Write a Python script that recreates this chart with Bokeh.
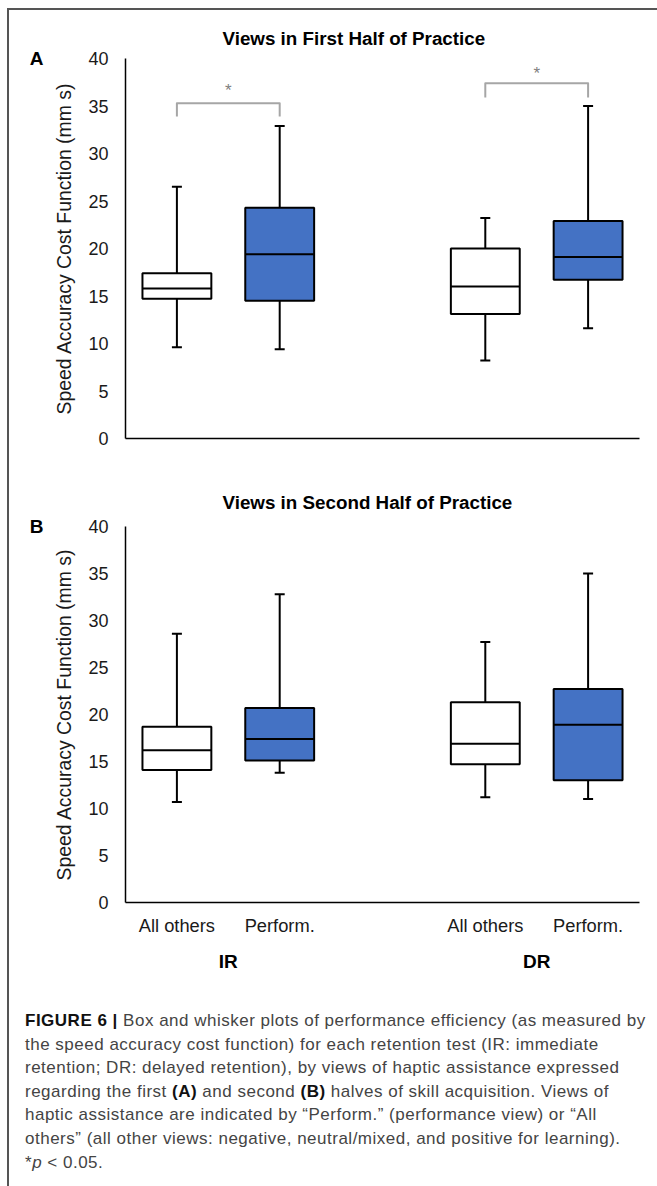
from bokeh.plotting import figure
from bokeh.layouts import column
from bokeh.models import (ColumnDataSource, FactorRange, Range1d, Whisker, TeeHead,
                          Div, Title, FixedTicker, LinearAxis)
from bokeh.transform import dodge
from bokeh.embed import file_html
from bokeh.resources import INLINE
from bokeh.core.properties import value

# ---------------- data ----------------
tests = ["IR", "DR"]
views = ["All others", "Perform."]
box_colors = ["white", "#4472C4", "white", "#4472C4"]

# Panel A: views in first half of practice
a_lower = [9.6, 9.4, 8.2, 11.6]
a_q1 = [14.7, 14.5, 13.1, 16.7]
a_med = [15.8, 19.4, 16.0, 19.1]
a_q3 = [17.4, 24.3, 20.0, 22.9]
a_upper = [26.5, 32.9, 23.2, 35.0]

# Panel B: views in second half of practice
b_lower = [10.7, 13.8, 11.2, 11.0]
b_q1 = [14.1, 15.1, 14.7, 13.0]
b_med = [16.2, 17.4, 16.9, 18.9]
b_q3 = [18.7, 20.7, 21.3, 22.7]
b_upper = [28.6, 32.8, 27.7, 35.0]

# significance brackets in panel A
sig_tests = ["IR", "DR"]
sig_top = [35.3, 37.4]
sig_foot = [33.9, 35.9]
sig_star = [36.6, 38.4]

y_ticks = [0, 5, 10, 15, 20, 25, 30, 35, 40]

FONT = "Liberation Sans"
FIG_W = 648
BOX_W = 0.67


def make_panel(lower, q1, med, q3, upper, title, letter, height, top_b, bottom_b,
               show_x, title_standoff):
    factors = [(t, v) for t in tests for v in views]
    xr = FactorRange(*factors, group_padding=1.0, factor_padding=0.0, range_padding=0.0)
    p = figure(x_range=xr, y_range=Range1d(0, 40), width=FIG_W, height=height,
               output_backend="svg", toolbar_location=None,
               min_border_left=116, min_border_right=18,
               min_border_top=top_b, min_border_bottom=bottom_b)
    p.outline_line_color = None
    p.xgrid.grid_line_color = None
    p.ygrid.grid_line_color = None
    p.background_fill_color = "white"
    p.border_fill_color = "white"

    src = ColumnDataSource(dict(x=factors, lower=lower, q1=q1, med=med, q3=q3,
                                upper=upper, color=box_colors))

    wu = Whisker(base="x", lower="q3", upper="upper", source=src,
                 line_color="black", line_width=2,
                 upper_head=TeeHead(size=10, line_width=2, line_color="black"),
                 lower_head=None)
    wl = Whisker(base="x", lower="lower", upper="q1", source=src,
                 line_color="black", line_width=2,
                 lower_head=TeeHead(size=10, line_width=2, line_color="black"),
                 upper_head=None)
    p.add_layout(wu)
    p.add_layout(wl)

    p.vbar(x="x", width=BOX_W, bottom="q1", top="q3", source=src,
           fill_color="color", line_color="black", line_width=2)
    p.segment(x0=dodge("x", -BOX_W / 2, range=xr), x1=dodge("x", BOX_W / 2, range=xr),
              y0="med", y1="med", source=src, line_color="black", line_width=2)

    # y axis
    ya = p.yaxis[0]
    ya.ticker = FixedTicker(ticks=y_ticks)
    ya.major_tick_line_color = None
    ya.minor_tick_line_color = None
    ya.major_tick_out = 0
    ya.major_tick_in = 0
    ya.axis_line_color = "black"
    ya.axis_line_width = 1.5
    ya.major_label_text_font = FONT
    ya.major_label_text_font_size = "18px"
    ya.major_label_text_color = "#1a1a1a"
    ya.major_label_standoff = 17
    ya.axis_label = "Speed Accuracy Cost Function (mm s)"
    ya.axis_label_text_font = FONT
    ya.axis_label_text_font_size = "19.4px"
    ya.axis_label_text_font_style = "normal"
    ya.axis_label_text_color = "#1a1a1a"
    ya.axis_label_standoff = 10

    # panel letter, drawn as a one-tick outer axis level with the 40 tick
    la = LinearAxis(ticker=FixedTicker(ticks=[40]), major_label_overrides={40: letter},
                    axis_line_color=None, major_tick_line_color=None,
                    minor_tick_line_color=None, major_tick_out=0, major_tick_in=0,
                    major_label_standoff=7, major_label_text_font=FONT,
                    major_label_text_font_size="19px", major_label_text_font_style="bold",
                    major_label_text_color="black")
    p.add_layout(la, "left")

    # x axis
    xa = p.xaxis[0]
    xa.major_tick_line_color = None
    xa.minor_tick_line_color = None
    xa.major_tick_out = 0
    xa.major_tick_in = 0
    xa.axis_line_color = "black"
    xa.axis_line_width = 1.5
    xa.separator_line_color = None
    if show_x:
        xa.major_label_text_font = FONT
        xa.major_label_text_font_size = "18.3px"
        xa.major_label_text_color = "#1a1a1a"
        xa.major_label_standoff = 12
        xa.group_text_font = FONT
        xa.group_text_font_size = "19px"
        xa.group_text_font_style = "bold"
        xa.group_text_color = "black"
    else:
        # panel A shows the baseline only: category labels are not drawn
        xa.major_label_text_font_size = "1px"
        xa.group_text_font_size = "1px"
        xa.major_label_text_color = None
        xa.group_text_color = None
        xa.major_label_standoff = 0

    p.title = Title(text=title, align="left", offset=97, text_font=FONT,
                    text_font_size="18.8px", text_font_style="bold",
                    text_color="black", standoff=title_standoff)
    return p


pa = make_panel(a_lower, a_q1, a_med, a_q3, a_upper,
                "Views in First Half of Practice", "A", 450, 48, 22, False, 20)

# brackets
br_xs = [[(t, views[0]), (t, views[0]), (t, views[1]), (t, views[1])] for t in sig_tests]
br_ys = [[f, tp, tp, f] for f, tp in zip(sig_foot, sig_top)]
pa.multi_line(xs=br_xs, ys=br_ys, line_color="#a6a6a6", line_width=2, line_join="round")
pa.text(x=sig_tests, y=sig_star, text=["*", "*"], text_color="#808080",
        text_font=value(FONT), text_font_size="17px", text_align="center",
        text_baseline="middle")

pb = make_panel(b_lower, b_q1, b_med, b_q3, b_upper,
                "Views in Second Half of Practice", "B", 530, 66, 88, True, 28)

caption_html = (
    '<div style="font-family: \'Liberation Sans\', Arial, sans-serif; font-size:17px; '
    'letter-spacing:0.5px; line-height:23.6px; color:#444444; white-space:nowrap; '
    'padding:14px 0 0 11px;">'
    '<span style="font-weight:bold;color:#111;">FIGURE 6 |</span> Box and whisker plots of performance efficiency (as measured by<br>'
    'the speed accuracy cost function) for each retention test (IR: immediate<br>'
    'retention; DR: delayed retention), by views of haptic assistance expressed<br>'
    'regarding the first <b style="color:#111;">(A)</b> and second <b style="color:#111;">(B)</b> halves of skill acquisition. Views of<br>'
    'haptic assistance are indicated by \u201cPerform.\u201d (performance view) or \u201cAll<br>'
    'others\u201d (all other views: negative, neutral/mixed, and positive for learning).<br>'
    '*<i>p</i> &lt; 0.05.'
    '</div>'
)
cap = Div(text=caption_html, width=FIG_W, height=186)

layout = column(pa, pb, cap, spacing=0, margin=(8, 0, 0, 7),
                styles={"border-top": "2px solid #555555", "border-left": "2px solid #555555",
                        "background": "white"})

open("out.html", "w").write(file_html(layout, INLINE))
